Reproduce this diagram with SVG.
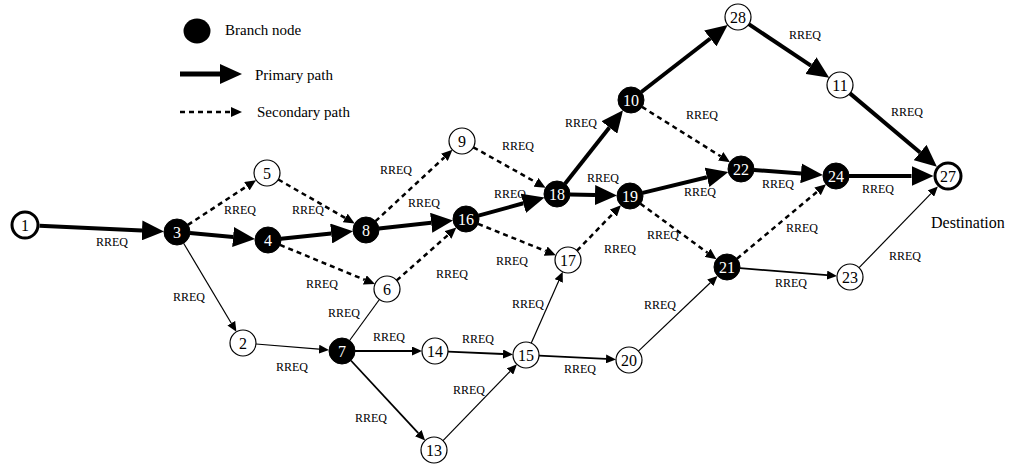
<svg xmlns="http://www.w3.org/2000/svg" width="1010" height="465" viewBox="0 0 1010 465">
<style>
.w{fill:#fff;stroke:#000;stroke-width:1.2}
.b{fill:#000;stroke:#000;stroke-width:1}
.src{fill:#fff;stroke:#000;stroke-width:3}
.nt{font-family:"Liberation Serif","Times New Roman",serif;font-size:16px;text-anchor:middle;fill:#000}
.bt{font-family:"Liberation Serif","Times New Roman",serif;font-size:16px;text-anchor:middle;fill:#fff}
.lb{font-family:"Liberation Serif","Times New Roman",serif;font-size:12px;text-anchor:middle;fill:#000}
.lg{font-family:"Liberation Serif","Times New Roman",serif;font-size:15px;fill:#000}
.p{stroke:#000;stroke-width:4;fill:none;marker-end:url(#ap)}
.s{stroke:#000;stroke-width:2.5;stroke-dasharray:5 4;fill:none;marker-end:url(#as)}
.t{stroke:#000;stroke-width:1.2;fill:none;marker-end:url(#at)}
.t2{stroke:#000;stroke-width:1.8;fill:none;marker-end:url(#at)}
</style>
<defs>
<marker id="ap" markerUnits="userSpaceOnUse" viewBox="0 0 22 20" markerWidth="22" markerHeight="20" refX="0" refY="10" orient="auto"><path d="M0,0 L22,10 L0,20 z" fill="#000"/></marker>
<marker id="as" markerUnits="userSpaceOnUse" viewBox="0 0 11 10" markerWidth="11" markerHeight="10" refX="0" refY="5" orient="auto"><path d="M0,0 L11,5 L0,10 z" fill="#000"/></marker>
<marker id="at" markerUnits="userSpaceOnUse" viewBox="0 0 10 9" markerWidth="10" markerHeight="9" refX="0" refY="4.5" orient="auto"><path d="M0,0 L10,4.5 L0,9 z" fill="#000"/></marker>
</defs>

<g id="legend">
<ellipse cx="197" cy="31" rx="13.5" ry="12.5" fill="#000"/>
<text class="lg" x="225" y="35">Branch node</text>
<line x1="180" y1="74" x2="220" y2="74" stroke="#000" stroke-width="5" marker-end="url(#ap)"/>
<text class="lg" x="255" y="80">Primary path</text>
<line x1="180" y1="112" x2="231" y2="112" class="s"/>
<text class="lg" x="257" y="117">Secondary path</text>
</g>

<g id="connectors">
<line class="p" x1="39.5" y1="225.7" x2="142" y2="230.4"/>
<line class="p" x1="190" y1="233.1" x2="233.1" y2="237"/>
<line class="p" x1="280.9" y1="238.7" x2="331.2" y2="233.5"/>
<line class="p" x1="378.9" y1="228.6" x2="431.2" y2="222.8"/>
<line class="p" x1="478.5" y1="215.6" x2="523.3" y2="203.3"/>
<line class="p" x1="565" y1="183.8" x2="609.4" y2="127.5"/>
<line class="p" x1="570" y1="194.4" x2="595" y2="195"/>
<line class="p" x1="641.3" y1="92" x2="710.3" y2="38.5"/>
<line class="p" x1="748.8" y1="24.2" x2="810.9" y2="65.6"/>
<line class="p" x1="849.9" y1="93.4" x2="920.1" y2="152.5"/>
<line class="p" x1="642.6" y1="192.9" x2="707" y2="177.3"/>
<line class="p" x1="754" y1="170" x2="801" y2="173.4"/>
<line class="p" x1="849" y1="176" x2="911.5" y2="176"/>

<line class="s" x1="187.9" y1="224.9" x2="246.9" y2="186.2"/>
<line class="s" x1="278.3" y1="179.5" x2="345.2" y2="218"/>
<line class="s" x1="280" y1="244.9" x2="364.8" y2="279.9"/>
<line class="s" x1="375.5" y1="221.2" x2="444.4" y2="157.3"/>
<line class="s" x1="473.4" y1="147.3" x2="536" y2="182.3"/>
<line class="s" x1="396.7" y1="280.4" x2="448.1" y2="234.9"/>
<line class="s" x1="478.1" y1="223.9" x2="545.7" y2="251.1"/>
<line class="s" x1="577" y1="250.7" x2="613.3" y2="213.2"/>
<line class="s" x1="642" y1="106.9" x2="720.7" y2="156.3"/>
<line class="s" x1="640.5" y1="203.7" x2="707.6" y2="252.8"/>
<line class="s" x1="737" y1="258.7" x2="817.6" y2="191.4"/>

<line class="t" x1="183.6" y1="243.2" x2="231.3" y2="323.2"/>
<line class="t" x1="256" y1="344" x2="319" y2="349.2"/>
<line class="t2" x1="355" y1="351" x2="412" y2="351"/>
<line class="t2" x1="448" y1="351.6" x2="503" y2="354"/>
<line class="t2" x1="350.9" y1="360.5" x2="418.3" y2="433.1"/>
<line class="t" x1="443" y1="440.7" x2="510" y2="371.5"/>
<line class="t" x1="531.3" y1="343.1" x2="558.7" y2="281"/>
<line class="t2" x1="539" y1="355.6" x2="606" y2="358.9"/>
<line class="t" x1="638.4" y1="351.1" x2="710.3" y2="282.8"/>
<line class="t2" x1="740" y1="268.1" x2="827" y2="275.1"/>
<line class="t" x1="859.1" y1="267.7" x2="930.9" y2="193.6"/>
<line x1="349.6" y1="340.5" x2="379.4" y2="299.5" stroke="#000" stroke-width="1.2"/>
</g>

<g id="labels">
<text class="lb" x="112" y="246">RREQ</text>
<text class="lb" x="240" y="214">RREQ</text>
<text class="lb" x="308" y="214">RREQ</text>
<text class="lb" x="189" y="301">RREQ</text>
<text class="lb" x="322" y="288">RREQ</text>
<text class="lb" x="292" y="371">RREQ</text>
<text class="lb" x="344" y="317">RREQ</text>
<text class="lb" x="389" y="341">RREQ</text>
<text class="lb" x="478" y="343">RREQ</text>
<text class="lb" x="371" y="422">RREQ</text>
<text class="lb" x="469" y="394">RREQ</text>
<text class="lb" x="396" y="174">RREQ</text>
<text class="lb" x="424" y="207">RREQ</text>
<text class="lb" x="452" y="278">RREQ</text>
<text class="lb" x="518" y="150">RREQ</text>
<text class="lb" x="510" y="198">RREQ</text>
<text class="lb" x="512" y="265">RREQ</text>
<text class="lb" x="528" y="308">RREQ</text>
<text class="lb" x="581" y="127">RREQ</text>
<text class="lb" x="603" y="182">RREQ</text>
<text class="lb" x="702" y="119">RREQ</text>
<text class="lb" x="700" y="196">RREQ</text>
<text class="lb" x="663" y="239">RREQ</text>
<text class="lb" x="620" y="253">RREQ</text>
<text class="lb" x="660" y="309">RREQ</text>
<text class="lb" x="580" y="373">RREQ</text>
<text class="lb" x="791" y="287">RREQ</text>
<text class="lb" x="778" y="188">RREQ</text>
<text class="lb" x="805" y="39">RREQ</text>
<text class="lb" x="907" y="116">RREQ</text>
<text class="lb" x="878" y="193">RREQ</text>
<text class="lb" x="802" y="232">RREQ</text>
<text class="lb" x="905" y="260">RREQ</text>
<text class="lg" x="931" y="228" style="font-size:16px">Destination</text>
</g>

<g id="n1"><circle class="src" cx="25" cy="225" r="13"/><text class="nt" x="25" y="230.5">1</text></g>
<g id="n3"><circle class="b" cx="177" cy="232" r="13"/><text class="bt" x="177" y="237.5">3</text></g>
<g id="n4"><circle class="b" cx="268" cy="240" r="13"/><text class="bt" x="268" y="245.5">4</text></g>
<g id="n5"><circle class="w" cx="267" cy="173" r="13"/><text class="nt" x="267" y="178.5">5</text></g>
<g id="n2"><circle class="w" cx="243" cy="343" r="13"/><text class="nt" x="243" y="348.5">2</text></g>
<g id="n8"><circle class="b" cx="366" cy="230" r="13"/><text class="bt" x="366" y="235.5">8</text></g>
<g id="n16"><circle class="b" cx="466" cy="219" r="13"/><text class="bt" x="466" y="224.5">16</text></g>
<g id="n6"><circle class="w" cx="387" cy="289" r="13"/><text class="nt" x="387" y="294.5">6</text></g>
<g id="n7"><circle class="b" cx="342" cy="351" r="13"/><text class="bt" x="342" y="356.5">7</text></g>
<g id="n14"><circle class="w" cx="435" cy="351" r="13"/><text class="nt" x="435" y="356.5">14</text></g>
<g id="n15"><circle class="w" cx="526" cy="355" r="13"/><text class="nt" x="526" y="360.5">15</text></g>
<g id="n13"><circle class="w" cx="434" cy="450" r="13"/><text class="nt" x="434" y="455.5">13</text></g>
<g id="n9"><circle class="w" cx="462" cy="141" r="13"/><text class="nt" x="462" y="146.5">9</text></g>
<g id="n18"><circle class="b" cx="557" cy="194" r="13"/><text class="bt" x="557" y="199.5">18</text></g>
<g id="n10"><circle class="b" cx="631" cy="100" r="13"/><text class="bt" x="631" y="105.5">10</text></g>
<g id="n19"><circle class="b" cx="630" cy="196" r="13"/><text class="bt" x="630" y="201.5">19</text></g>
<g id="n22"><circle class="b" cx="741" cy="169" r="13"/><text class="bt" x="741" y="174.5">22</text></g>
<g id="n17"><circle class="w" cx="568" cy="260" r="13"/><text class="nt" x="568" y="265.5">17</text></g>
<g id="n21"><circle class="b" cx="727" cy="267" r="13"/><text class="bt" x="727" y="272.5">21</text></g>
<g id="n20"><circle class="w" cx="629" cy="360" r="13"/><text class="nt" x="629" y="365.5">20</text></g>
<g id="n23"><circle class="w" cx="850" cy="277" r="13"/><text class="nt" x="850" y="282.5">23</text></g>
<g id="n28"><circle class="w" cx="738" cy="17" r="13"/><text class="nt" x="738" y="22.5">28</text></g>
<g id="n11"><circle class="w" cx="840" cy="85" r="13"/><text class="nt" x="840" y="90.5">11</text></g>
<g id="n24"><circle class="b" cx="836" cy="176" r="13"/><text class="bt" x="836" y="181.5">24</text></g>
<g id="n27"><circle class="src" cx="948" cy="176" r="13"/><text class="nt" x="948" y="181.5">27</text></g>
</svg>
